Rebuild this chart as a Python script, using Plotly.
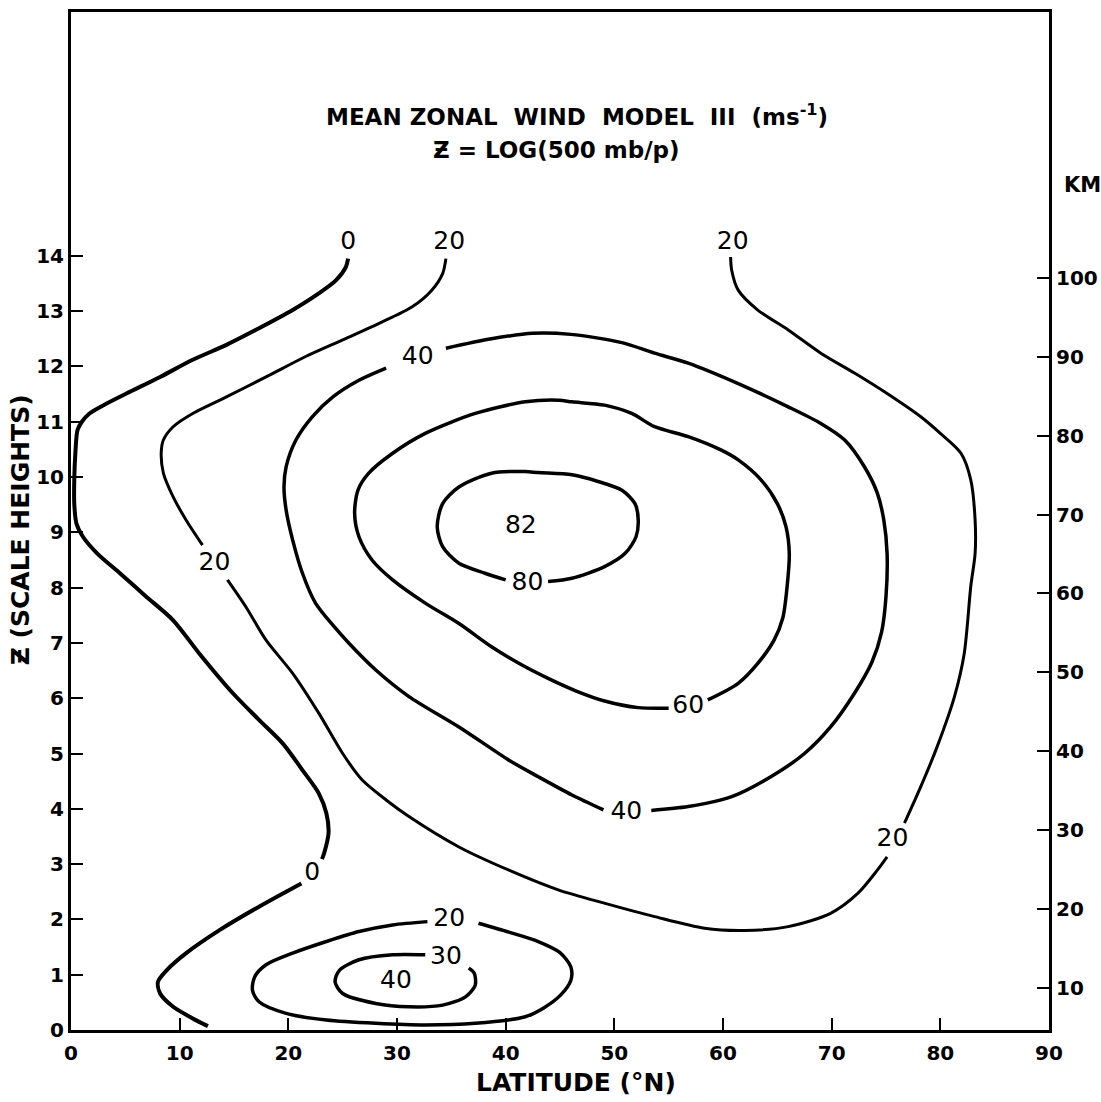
import plotly.graph_objects as go

# Mean zonal wind (m/s), model III: isotach paths as (latitude degN, Z in scale heights).
# None breaks a line where a value label sits.
u0_path = [(25.5, 13.95), (25.3, 13.80), (24.4, 13.56), (22.8, 13.32), (20.4, 13.02),
           (17.3, 12.69), (14.3, 12.39), (11.2, 12.12), (8.2, 11.81), (5.1, 11.51),
           (3.0, 11.30), (1.7, 11.15), (1.0, 11.00), (0.6, 10.85), (0.4, 10.43),
           (0.3, 9.95), (0.3, 9.52), (0.5, 9.16), (1.1, 8.92), (2.4, 8.62), (4.5, 8.26),
           (6.9, 7.84), (9.4, 7.41), (11.8, 6.81), (14.9, 6.09), (17.3, 5.61), (19.5, 5.18),
           (21.3, 4.70), (22.8, 4.28), (23.5, 3.92), (23.7, 3.56), (23.3, 3.20), (23.1, 3.09),
           None,
           (21.2, 2.65), (17.3, 2.23), (13.7, 1.81), (10.6, 1.39), (8.8, 1.08), (8.0, 0.87),
           (8.2, 0.66), (9.4, 0.42), (11.2, 0.21), (12.6, 0.07)]

u20_path = [(34.5, 13.95), (34.2, 13.68), (33.2, 13.38), (31.4, 13.08), (28.35, 12.78),
            (25.0, 12.48), (21.6, 12.18), (17.95, 11.81), (14.3, 11.45), (11.2, 11.15),
            (9.4, 10.91), (8.5, 10.67), (8.3, 10.43), (8.5, 10.07), (9.4, 9.64),
            (10.6, 9.22), (12.1, 8.77),
            None,
            (14.4, 8.14), (16.1, 7.65), (17.95, 7.05), (20.4, 6.45), (22.8, 5.73),
            (25.0, 5.00), (26.8, 4.52), (29.0, 4.16), (31.1, 3.86), (35.7, 3.31),
            (40.3, 2.89), (44.9, 2.53), (49.15, 2.29), (53.7, 2.05), (58.3, 1.84),
            (62.0, 1.80), (66.0, 1.87), (69.9, 2.11), (72.4, 2.47), (74.2, 2.89), (75.1, 3.13),
            None,
            (76.7, 3.74), (78.2, 4.40), (79.7, 5.12), (81.3, 6.03), (82.2, 6.81),
            (82.8, 8.02), (83.2, 8.62), (83.2, 9.22), (82.8, 9.95), (81.9, 10.43),
            (80.0, 10.79), (78.2, 11.09), (75.1, 11.51), (72.1, 11.88), (69.0, 12.24),
            (66.0, 12.66), (63.2, 13.02), (61.4, 13.38), (60.8, 13.74), (60.7, 13.98)]

u40_path = [(34.5, 12.33), (38.7, 12.50), (42.5, 12.60), (46.0, 12.58), (50.7, 12.43),
            (53.7, 12.24), (56.8, 12.06), (61.4, 11.69), (66.0, 11.27),
            (69.0, 10.97), (71.2, 10.67), (73.0, 10.19), (74.2, 9.71), (74.8, 9.22),
            (75.1, 8.62), (75.0, 7.84), (74.6, 7.20), (73.7, 6.65), (72.1, 6.09),
            (69.9, 5.48), (67.5, 5.00), (64.4, 4.58), (60.8, 4.22), (56.8, 4.04), (53.4, 3.97),
            None,
            (49.0, 3.98), (46.1, 4.25), (43.0, 4.58), (40.3, 4.88), (35.7, 5.48),
            (31.1, 6.03), (28.05, 6.51), (25.6, 6.99), (24.1, 7.32), (22.5, 7.72),
            (21.3, 8.26), (20.4, 8.86), (19.8, 9.40), (19.6, 9.82), (19.8, 10.19),
            (20.7, 10.67), (22.2, 11.09), (24.1, 11.45), (26.5, 11.75), (29.0, 11.97)]

u60_path = [(58.6, 5.97), (61.4, 6.27), (63.2, 6.63), (64.7, 7.05), (65.5, 7.45),
            (65.9, 8.02), (66.1, 8.62), (65.8, 9.10), (65.0, 9.52), (63.5, 9.95),
            (61.4, 10.31), (59.8, 10.49), (56.8, 10.73), (53.7, 10.91), (51.6, 11.15),
            (49.1, 11.30), (46.1, 11.36), (44.9, 11.39), (41.8, 11.36), (37.2, 11.15),
            (32.6, 10.79), (29.6, 10.43), (27.4, 10.07), (26.4, 9.76), (26.1, 9.34),
            (26.5, 8.92), (27.7, 8.50), (29.6, 8.14), (32.6, 7.72), (35.7, 7.35),
            (38.7, 6.93), (41.5, 6.60), (44.0, 6.35), (46.5, 6.13), (49.1, 5.95),
            (52.2, 5.83), (55.0, 5.82)]

u80_path = [(43.9, 8.11), (46.1, 8.17), (49.1, 8.38), (51.0, 8.62), (52.0, 8.92),
            (52.2, 9.22), (51.9, 9.52), (50.7, 9.76), (48.5, 9.92), (46.1, 10.04),
            (43.0, 10.08), (41.8, 10.10), (38.7, 10.07), (35.7, 9.82), (34.2, 9.52),
            (33.7, 9.10), (34.2, 8.74), (35.7, 8.44), (38.1, 8.26), (40.0, 8.14)]

# Low-level jet near 30N
u20_low_path = [(37.5, 1.93), (40.3, 1.77), (43.0, 1.60), (45.0, 1.40), (46.0, 1.14),
                (46.0, 0.90), (45.05, 0.63), (43.5, 0.40), (41.8, 0.24), (37.2, 0.12),
                (32.6, 0.09), (28.05, 0.12), (23.5, 0.18), (19.8, 0.30), (17.3, 0.51),
                (16.7, 0.72), (16.9, 0.96), (17.95, 1.18), (20.4, 1.39), (23.5, 1.60),
                (26.5, 1.78), (29.6, 1.90), (32.8, 1.96)]

u30_low_path = [(36.6, 1.12), (37.1, 1.03), (37.2, 0.81), (36.3, 0.60), (34.2, 0.45),
                (31.1, 0.42), (28.05, 0.48), (25.0, 0.66), (24.3, 0.87), (24.7, 1.08),
                (26.5, 1.27), (29.6, 1.36), (32.6, 1.36)]

# Value labels on the isotachs (and the two wind maxima)
label_lat = [25.5, 34.8, 60.9, 13.2, 75.6, 31.9, 51.1, 56.8, 42.0, 41.4, 34.8, 34.5, 29.9, 22.2]
label_z = [14.23, 14.23, 14.23, 8.44, 3.44, 12.15, 3.92, 5.84, 8.07, 9.11, 1.99, 1.30, 0.87, 2.83]
label_val = ["0", "20", "20", "20", "20", "40", "40", "60", "80", "82", "20", "30", "40", "0"]

x_ticks = [0, 10, 20, 30, 40, 50, 60, 70, 80, 90]
z_ticks = list(range(0, 15))
km_ticks = [10, 20, 30, 40, 50, 60, 70, 80, 90, 100]

Z_MAX = 18.41
# height in km: 10 km at Z = 0.76, about 7 km per scale height
KM_AT_REF, Z_REF, KM_PER_H = 10.0, 0.76, 7.008
km_range = [KM_AT_REF + KM_PER_H * (0 - Z_REF), KM_AT_REF + KM_PER_H * (Z_MAX - Z_REF)]

FONT = "DejaVu Sans"

def unzip(path):
    xs, ys = [], []
    for p in path:
        if p is None:
            xs.append(None)
            ys.append(None)
        else:
            xs.append(p[0])
            ys.append(p[1])
    return xs, ys

fig = go.Figure()

lines = [
    (u0_path, 4.0),
    (u20_path, 3.0),
    (u40_path, 3.5),
    (u60_path, 3.5),
    (u80_path, 3.5),
    (u20_low_path, 3.5),
    (u30_low_path, 3.5),
]
for path, w in lines:
    xs, ys = unzip(path)
    fig.add_trace(go.Scatter(
        x=xs, y=ys, mode="lines", connectgaps=False,
        line=dict(color="black", width=w, shape="spline", smoothing=0.8),
        hoverinfo="skip", showlegend=False,
    ))

fig.add_trace(go.Scatter(
    x=label_lat, y=label_z, mode="text", text=label_val,
    textposition="middle center",
    textfont=dict(family=FONT, size=25, color="black"),
    hoverinfo="skip", showlegend=False,
))

# anchor trace for the km axis
fig.add_trace(go.Scatter(
    x=[0], y=[km_range[0]], yaxis="y2", mode="markers",
    marker=dict(opacity=0), hoverinfo="skip", showlegend=False,
))

tickfont = dict(family=FONT, size=20, color="black", weight="bold")
common = dict(ticks="inside", ticklen=12, tickwidth=2, tickcolor="black",
              showline=True, linewidth=3, linecolor="black",
              showgrid=False, zeroline=False, tickfont=tickfont, automargin=False)

fig.update_layout(
    width=1101, height=1102,
    margin=dict(l=71, r=52, t=12, b=72, autoexpand=False),
    paper_bgcolor="white", plot_bgcolor="white",
    xaxis=dict(range=[0, 90], tickvals=x_ticks, ticktext=[str(v) for v in x_ticks],
               mirror=True, ticklabelstandoff=3, **common),
    yaxis=dict(range=[0, Z_MAX], tickvals=z_ticks, ticktext=[str(v) for v in z_ticks],
               ticklabelstandoff=0, **common),
    yaxis2=dict(overlaying="y", side="right", range=km_range,
                tickvals=km_ticks, ticktext=[str(v) for v in km_ticks],
                ticklabelstandoff=0, **common),
)

def note(text, x, y, size, angle=0):
    fig.add_annotation(text=text, xref="paper", yref="paper", x=x, y=y,
                       xanchor="center", yanchor="middle", showarrow=False,
                       textangle=angle, font=dict(family=FONT, size=size, color="black"))

note("<b>MEAN ZONAL  WIND  MODEL  III  (ms<sup>-1</sup>)</b>", 0.517, 0.899, 23)
note("<b>Ƶ = LOG(500 mb/p)</b>", 0.496, 0.864, 23)
note("<b>Ƶ (SCALE HEIGHTS)</b>", -0.052, 0.491, 25, angle=-90)
note("<b>LATITUDE (°N)</b>", 0.516, -0.052, 25)
note("<b>KM</b>", 1.034, 0.830, 21)

fig.write_html("out.html")
